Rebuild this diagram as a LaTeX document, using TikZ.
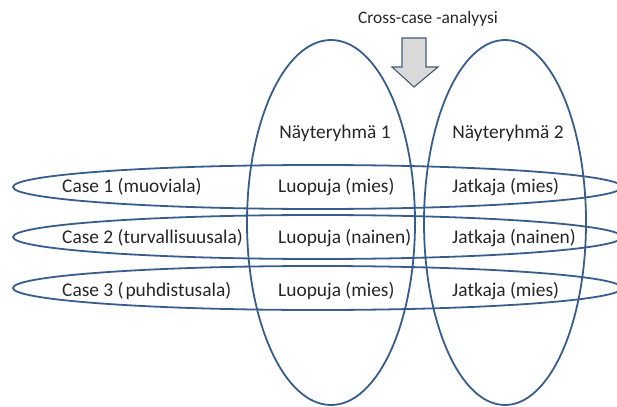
\documentclass[tikz,border=0pt]{standalone}
\usepackage{fontspec}
\setmainfont{Carlito}
\usetikzlibrary{shapes.geometric}
\definecolor{ringblue}{RGB}{56,93,140}
\definecolor{txtgray}{RGB}{38,38,38}
\definecolor{arrowfill}{RGB}{217,217,217}
\definecolor{arrowline}{RGB}{70,90,120}
\tikzset{
  ring/.style={ellipse, draw=ringblue, line width=1.8pt, inner sep=0pt},
  caseband/.style={ring, minimum width=609pt, minimum height=44pt},
  group/.style={ring, minimum height=365pt},
  lbl/.style={text=txtgray, font=\fontsize{19.4pt}{22pt}\selectfont, inner sep=0pt, anchor=west},
  clbl/.style={text=txtgray, font=\fontsize{19.4pt}{22pt}\selectfont, inner sep=0pt},
}
\begin{document}
\begin{tikzpicture}[x=1pt,y=-1pt]
\useasboundingbox (0,0) rectangle (617,406);
% groups
\node[group, minimum width=168pt] (g1) at (331,222.5) {};
\node[group, minimum width=162pt] (g2) at (505,222.5) {};
% case bands
\node[caseband] (c1) at (317.5,187) {};
\node[caseband] (c2) at (317.5,237) {};
\node[caseband] (c3) at (317.5,288) {};
% arrow
\filldraw[fill=arrowfill, draw=arrowline, line width=1.1pt, line join=miter]
  (402,38) -- (426,38) -- (426,67) -- (438,67) -- (414,87) -- (392,67) -- (402,67) -- cycle;
\node[clbl, font=\fontsize{17.4pt}{20pt}\selectfont] (title) at (428,19) {Cross-case -analyysi};
% headers
\node[clbl] (h1) at (335,133) {Näyteryhmä 1};
\node[clbl] (h2) at (508,133) {Näyteryhmä 2};
% rows
\node[lbl] (r1) at (62,187) {Case 1 (muoviala)};
\node[lbl] (l1) at (278,187) {Luopuja (mies)};
\node[lbl] (j1) at (452,187) {Jatkaja (mies)};
\node[lbl] (r2) at (62,238) {Case 2 (turvallisuusala)};
\node[lbl] (l2) at (278,238) {Luopuja (nainen)};
\node[lbl] (j2) at (452,238) {Jatkaja (nainen)};
\node[lbl] (r3) at (62,291) {Case 3 (\hspace{0.1em}puhdistusala)};
\node[lbl] (l3) at (278,291) {Luopuja (mies)};
\node[lbl] (j3) at (452,291) {Jatkaja (mies)};
\end{tikzpicture}
\end{document}
